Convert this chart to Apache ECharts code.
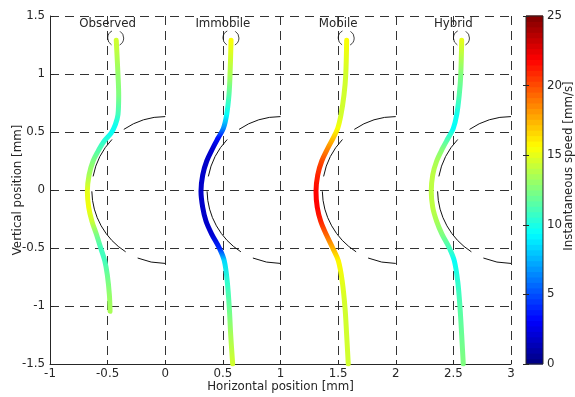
<!DOCTYPE html>
<html><head><meta charset="utf-8">
<script src="https://cdn.jsdelivr.net/npm/echarts@6/dist/echarts.min.js"></script>
<style>html,body{margin:0;padding:0;background:#fff}#c{width:575px;height:397px}</style>
</head><body><div id="c"></div>
<script>
// ---------- data ----------
const panelTitles = ['Observed', 'Immobile', 'Mobile', 'Hybrid'];
const titleX = [-0.5, 0.5, 1.5, 2.5];
const titleY = 1.43;
const startCircleX = [-0.43, 0.57, 1.57, 2.57];
const startCircleY = 1.31;
const obstacleX = [0, 1, 2, 3];
const obstacleY = 0;
const obstacleR = 0.635;

// Observed trajectory
const obsY = [1.29, 0.99, 0.82, 0.65, 0.563, 0.493, 0.421, 0.335, 0.25, 0.13, -0.01, -0.15, -0.27, -0.38, -0.50, -0.61, -0.73, -0.90, -1.045];
const obsX = [-0.425, -0.41, -0.404, -0.41, -0.433, -0.468, -0.531, -0.583, -0.626, -0.661, -0.676, -0.664, -0.636, -0.598, -0.56, -0.525, -0.503, -0.485, -0.479];
const obsSpeed = [14.5, 13, 12.5, 11, 9.8, 9.6, 10.5, 11.5, 12.5, 13.5, 15, 15.3, 14.3, 12.5, 11, 11, 12, 13, 13.5];

// Model trajectories share the same vertical samples
const modelY = [1.29, 0.99, 0.82, 0.65, 0.53, 0.45, 0.36, 0.25, 0.13, -0.01, -0.15, -0.27, -0.38, -0.50, -0.61, -0.79, -1.02, -1.25, -1.50];
const immX = [0.571, 0.562, 0.553, 0.533, 0.504, 0.460, 0.412, 0.360, 0.325, 0.310, 0.325, 0.354, 0.403, 0.469, 0.512, 0.538, 0.556, 0.568, 0.585];
const immSpeed = [15.5, 13.5, 11.5, 9.5, 6.5, 3.5, 2, 1.8, 1.8, 1.8, 1.8, 1.8, 2, 4, 8.5, 10.5, 12, 13.5, 14.5];
const mobX = [1.574, 1.566, 1.551, 1.525, 1.496, 1.458, 1.410, 1.358, 1.323, 1.308, 1.319, 1.349, 1.395, 1.453, 1.502, 1.536, 1.560, 1.574, 1.588];
const mobSpeed = [15.5, 14.5, 14.5, 14.5, 15.5, 17, 18.5, 20, 21, 21.8, 21.8, 21, 19.5, 17.5, 15.8, 15, 14.5, 14.5, 14.5];
const hybX = [2.572, 2.564, 2.551, 2.529, 2.499, 2.456, 2.407, 2.355, 2.321, 2.308, 2.321, 2.355, 2.401, 2.465, 2.508, 2.538, 2.558, 2.572, 2.586];
const hybSpeed = [15, 12.5, 11.5, 9.8, 9.5, 11, 12.5, 13.5, 14, 14, 14, 13.5, 12.5, 11, 9.5, 10.5, 11.5, 12, 12.5];

const xTicks = [-1, -0.5, 0, 0.5, 1, 1.5, 2, 2.5, 3];
const yTicks = [-1.5, -1, -0.5, 0, 0.5, 1, 1.5];
const speedTicks = [0, 5, 10, 15, 20, 25];
const colorbarLevels = 64;
// ---------------------------------------------------

const FONT = 'DejaVu Sans';
const FS = 11.8;
const TXT = '#262626';
const speedMax = speedTicks[speedTicks.length - 1];

function clamp(v) { return Math.max(0, Math.min(1, v)); }
function jet(t) {
  const r = clamp(Math.min(4 * t - 1.5, -4 * t + 4.5));
  const g = clamp(Math.min(4 * t - 0.5, -4 * t + 3.5));
  const b = clamp(Math.min(4 * t + 0.5, -4 * t + 2.5));
  return 'rgb(' + Math.round(r * 255) + ',' + Math.round(g * 255) + ',' + Math.round(b * 255) + ')';
}

const chart = echarts.init(document.getElementById('c'), null, { renderer: 'canvas' });

const trajectories = [
  { id: 'obs', xs: obsX, ys: obsY, sp: obsSpeed },
  { id: 'imm', xs: immX, ys: modelY, sp: immSpeed },
  { id: 'mob', xs: mobX, ys: modelY, sp: mobSpeed },
  { id: 'hyb', xs: hybX, ys: modelY, sp: hybSpeed }
];

const levels = [];
for (let i = 0; i < colorbarLevels; i++) levels.push(i);

const mainAxisCommon = {
  axisLine: { show: true, onZero: false, lineStyle: { color: TXT, width: 1 } },
  axisTick: { show: true, inside: true, length: 4, lineStyle: { color: TXT } },
  axisLabel: { fontSize: FS, fontFamily: FONT, color: TXT },
  splitLine: { show: true, showMinLine: true, showMaxLine: true, lineStyle: { color: '#333', width: 1, type: [9, 6] } },
  nameTextStyle: { fontSize: FS, fontFamily: FONT, color: TXT },
  nameLocation: 'middle',
  nameMoveOverlap: false
};

const option = {
  animation: false,
  backgroundColor: '#fff',
  grid: [
    { left: 50, top: 16, width: 461, height: 348, containLabel: false, outerBoundsMode: 'none' },
    { left: 526, top: 16, width: 17, height: 348, containLabel: false, outerBoundsMode: 'none',
      show: true, borderColor: TXT, borderWidth: 1, backgroundColor: 'transparent', z: 10 }
  ],
  xAxis: [
    Object.assign({}, mainAxisCommon, {
      gridIndex: 0, type: 'value', min: xTicks[0], max: xTicks[xTicks.length - 1], interval: 0.5,
      name: 'Horizontal position [mm]', nameGap: 17,
      axisLabel: Object.assign({}, mainAxisCommon.axisLabel, { margin: 4 })
    }),
    { gridIndex: 1, type: 'value', min: 0, max: 1, show: false }
  ],
  yAxis: [
    Object.assign({}, mainAxisCommon, {
      gridIndex: 0, type: 'value', min: yTicks[0], max: yTicks[yTicks.length - 1], interval: 0.5,
      name: 'Vertical position [mm]', nameGap: 26, nameRotate: 90,
      axisLabel: Object.assign({}, mainAxisCommon.axisLabel, { margin: 5 })
    }),
    {
      gridIndex: 1, type: 'value', position: 'right', min: speedTicks[0], max: speedMax, interval: 5, z: 10,
      axisLine: { show: false },
      axisTick: { show: true, inside: true, length: 3, lineStyle: { color: TXT } },
      axisLabel: { margin: 4, fontSize: FS, fontFamily: FONT, color: TXT },
      splitLine: { show: false },
      name: 'Instantaneous speed [mm/s]', nameLocation: 'middle', nameRotate: 90, nameGap: 20,
      nameMoveOverlap: false,
      nameTextStyle: { fontSize: FS, fontFamily: FONT, color: TXT, padding: [0, 0, 0, 48] }
    },
    {
      gridIndex: 1, type: 'value', position: 'left', min: speedTicks[0], max: speedMax, interval: 5, z: 10,
      axisLine: { show: false },
      axisTick: { show: true, inside: true, length: 3, lineStyle: { color: TXT } },
      axisLabel: { show: false },
      splitLine: { show: false }
    }
  ],
  series: [
    {
      id: 'obstacles', type: 'custom', xAxisIndex: 0, yAxisIndex: 0, silent: true, clip: false, z: 3,
      data: obstacleX.map(x => [x, obstacleY]),
      renderItem: function (params, api) {
        const c = api.coord([api.value(0), api.value(1)]);
        const s = api.size([obstacleR, obstacleR]);
        const r = (s[0] + s[1]) / 2;
        return {
          type: 'arc',
          shape: { cx: c[0], cy: c[1], r: r, startAngle: -Math.PI / 2, endAngle: Math.PI / 2, clockwise: false },
          style: { stroke: '#111', lineWidth: 1, fill: null, lineDash: [44, 15.5, 42, 15, 72, 13.5, 40, 200] }
        };
      }
    },
    {
      id: 'startCircles', type: 'scatter', xAxisIndex: 0, yAxisIndex: 0, silent: true, z: 3,
      symbol: 'circle', symbolSize: 16,
      data: startCircleX.map(x => [x, startCircleY]),
      itemStyle: { color: 'none', borderColor: '#111', borderWidth: 1, borderType: [16.8, 8.4], borderDashOffset: 8.4 }
    },
    {
      id: 'titles', type: 'custom', xAxisIndex: 0, yAxisIndex: 0, silent: true, clip: false, z: 5,
      data: titleX.map((x, i) => [x, titleY, i]),
      renderItem: function (params, api) {
        const c = api.coord([api.value(0), api.value(1)]);
        return {
          type: 'text', x: c[0], y: c[1],
          style: { text: panelTitles[api.value(2)], align: 'center', verticalAlign: 'middle',
                   fontSize: FS, fontFamily: FONT, fill: TXT }
        };
      }
    }
  ].concat(trajectories.map(t => ({
    id: t.id, type: 'line', xAxisIndex: 0, yAxisIndex: 0, silent: true, z: 4,
    data: t.xs.map((x, i) => [x, t.ys[i]]),
    symbol: 'none', showSymbol: false, smooth: 0.35,
    lineStyle: { width: 5, cap: 'round', join: 'round', color: jet(t.sp[0] / speedMax) }
  }))).concat([
    {
      id: 'colorbar', type: 'custom', xAxisIndex: 1, yAxisIndex: 1, silent: true, z: 2,
      data: levels.map(i => [i]),
      renderItem: function (params, api) {
        const i = api.value(0);
        const v0 = i * speedMax / colorbarLevels, v1 = (i + 1) * speedMax / colorbarLevels;
        const p0 = api.coord([0, v0]);
        const p1 = api.coord([1, v1]);
        return {
          type: 'rect',
          shape: { x: p0[0], y: p1[1] - 0.5, width: p1[0] - p0[0], height: p0[1] - p1[1] + 1 },
          style: { fill: jet((i + 0.5) / colorbarLevels), stroke: null }
        };
      }
    }
  ])
};

chart.setOption(option);

// speed-coloured strokes: gradient along the vertical pixel extent of each trajectory
const updates = trajectories.map(t => {
  const pTop = chart.convertToPixel({ gridIndex: 0 }, [t.xs[0], t.ys[0]]);
  const pBot = chart.convertToPixel({ gridIndex: 0 }, [t.xs[t.xs.length - 1], t.ys[t.ys.length - 1]]);
  const stops = t.ys.map((y, i) => {
    const p = chart.convertToPixel({ gridIndex: 0 }, [t.xs[i], y]);
    return { offset: clamp((p[1] - pTop[1]) / (pBot[1] - pTop[1])), color: jet(t.sp[i] / speedMax) };
  });
  return {
    id: t.id,
    lineStyle: { color: new echarts.graphic.LinearGradient(0, pTop[1], 0, pBot[1], stops, true) }
  };
});
chart.setOption({ series: updates });
</script>
</body></html>
